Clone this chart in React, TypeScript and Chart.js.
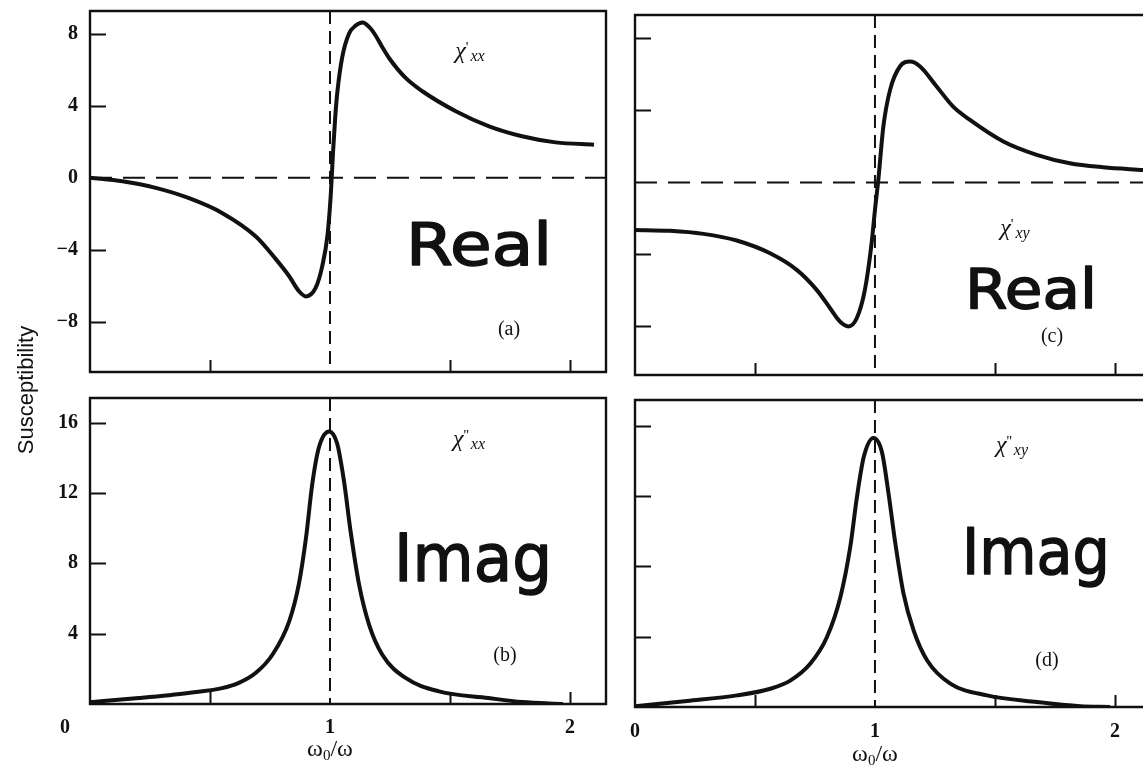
import React, { useEffect, useRef } from 'react';
import { Chart, registerables } from 'chart.js';

Chart.register(...registerables);

// ---------------- data ----------------
// (a) real part, chi'_xx
const xxRealX = [0, 0.135, 0.274, 0.41, 0.55, 0.69, 0.77, 0.83, 0.87, 0.9, 0.94, 0.968, 0.989, 1.003, 1.013, 1.022, 1.031, 1.051, 1.079, 1.107, 1.135, 1.165, 1.19, 1.218, 1.246, 1.315, 1.385, 1.524, 1.663, 1.8, 1.94, 2.1];
const xxRealY = [0, -0.2, -0.57, -1.13, -1.96, -3.26, -4.46, -5.48, -6.3, -6.6, -6.13, -4.9, -3.26, -1.0, 1.5, 3.4, 4.8, 6.7, 8.0, 8.45, 8.62, 8.35, 7.9, 7.25, 6.65, 5.54, 4.8, 3.69, 2.85, 2.3, 1.96, 1.83];

// (b) imaginary part, chi''_xx
const xxImagX = [0, 0.204, 0.41, 0.55, 0.62, 0.69, 0.76, 0.83, 0.87, 0.9, 0.926, 0.954, 0.996, 1.03, 1.058, 1.086, 1.121, 1.163, 1.218, 1.315, 1.454, 1.66, 1.8, 1.97];
const xxImagY = [0.1, 0.34, 0.63, 0.9, 1.2, 1.76, 2.8, 4.7, 6.8, 9.45, 12.5, 14.6, 15.5, 14.8, 12.7, 9.8, 6.8, 4.5, 2.8, 1.48, 0.72, 0.34, 0.11, 0];

// (c) real part, chi'_xy
const xyRealX = [0, 0.146, 0.285, 0.424, 0.563, 0.674, 0.757, 0.813, 0.854, 0.889, 0.924, 0.958, 0.986, 1.0, 1.014, 1.035, 1.063, 1.104, 1.146, 1.188, 1.257, 1.326, 1.396, 1.535, 1.674, 1.812, 1.951, 2.117];
const xyRealY = [-2.64, -2.69, -2.86, -3.23, -3.94, -4.86, -5.97, -6.99, -7.73, -8.0, -7.55, -5.97, -3.38, -1.53, 0.14, 3.1, 5.14, 6.44, 6.71, 6.44, 5.33, 4.21, 3.47, 2.27, 1.53, 1.06, 0.84, 0.69];

// (d) imaginary part, chi''_xy
const xyImagX = [0, 0.217, 0.425, 0.564, 0.647, 0.731, 0.8, 0.856, 0.897, 0.925, 0.953, 0.994, 1.029, 1.057, 1.085, 1.119, 1.161, 1.217, 1.314, 1.467, 1.675, 1.856, 1.98];
const xyImagY = [0.04, 0.34, 0.66, 1.04, 1.5, 2.47, 3.98, 6.26, 9.1, 11.95, 14.2, 15.3, 14.5, 12.1, 9.3, 6.45, 4.36, 2.66, 1.33, 0.66, 0.28, 0.04, 0];

// tick values
const realTickLabels = [-8, -4, 0, 4, 8];
const realTickMarks = [-8, -4, 4, 8];
const imagTickLabels = [4, 8, 12, 16];
const imagTickMarks = [4, 8, 12, 16];
const xTickMarks = [0.5, 1.5, 2];
const xLabelsLeft = [1, 2];
const xLabelsRight = [0, 1, 2];
const resonanceX = 1;

const INK = '#111';
const SERIF = '"Liberation Serif", "DejaVu Serif", serif';
const HAND = '"DejaVu Sans", sans-serif';

type Panel = any;

const PANELS: Panel[] = [
  {
    key: 'a', left: 0, top: 0, width: 620, height: 385,
    pad: { top: 11, right: 14, bottom: 13, left: 0 },
    yAxisWidth: 90, xAxisHeight: null, xLabelPadding: 0,
    xMin: 0, xMax: 2.15, yMin: -10.8, yMax: 9.26,
    xs: xxRealX, ys: xxRealY,
    yLabels: realTickLabels, yMarks: realTickMarks, xLabels: [], xMarks: xTickMarks,
    zeroLine: true, rightBorder: true,
    chi: { prime: "'", sub: 'xx', x: 1.583, y: 6.9 },
    word: { text: 'Real', x: 1.317, y: -4.85, width: 146, size: 58 },
    tag: { text: '(a)', x: 1.746, y: -8.46 },
    xTitle: null, origin: null,
  },
  {
    key: 'b', left: 0, top: 385, width: 620, height: 382,
    pad: { top: 13, right: 14, bottom: 0, left: 0 },
    yAxisWidth: 90, xAxisHeight: 63, xLabelPadding: 12,
    xMin: 0, xMax: 2.15, yMin: 0, yMax: 17.4,
    xs: xxImagX, ys: xxImagY,
    yLabels: imagTickLabels, yMarks: imagTickMarks, xLabels: xLabelsLeft, xMarks: xTickMarks,
    zeroLine: false, rightBorder: true,
    chi: { prime: "''", sub: 'xx', x: 1.579, y: 14.93 },
    word: { text: 'Imag', x: 1.267, y: 7.02, width: 158, size: 66 },
    tag: { text: '(b)', x: 1.729, y: 2.76 },
    xTitle: { x: 1, dy: 52 }, origin: { dx: -25, dy: 24 },
  },
  {
    key: 'c', left: 620, top: 0, width: 523, height: 385,
    pad: { top: 15, right: 0, bottom: 10, left: 15 },
    yAxisWidth: null, xAxisHeight: null, xLabelPadding: 0,
    xMin: 0, xMax: 2.117, yMin: -10.7, yMax: 9.3,
    xs: xyRealX, ys: xyRealY,
    yLabels: realTickLabels, yMarks: realTickMarks, xLabels: [], xMarks: xTickMarks,
    zeroLine: true, rightBorder: false,
    chi: { prime: "'", sub: 'xy', x: 1.583, y: -2.64 },
    word: { text: 'Real', x: 1.375, y: -6.97, width: 132, size: 56 },
    tag: { text: '(c)', x: 1.738, y: -8.58 },
    xTitle: null, origin: null,
  },
  {
    key: 'd', left: 620, top: 385, width: 523, height: 382,
    pad: { top: 15, right: 0, bottom: 0, left: 15 },
    yAxisWidth: null, xAxisHeight: 60, xLabelPadding: 13,
    xMin: 0, xMax: 2.117, yMin: 0, yMax: 17.46,
    xs: xyImagX, ys: xyImagY,
    yLabels: imagTickLabels, yMarks: imagTickMarks, xLabels: xLabelsRight, xMarks: xTickMarks,
    zeroLine: false, rightBorder: false,
    chi: { prime: "''", sub: 'xy', x: 1.571, y: 14.77 },
    word: { text: 'Imag', x: 1.3625, y: 7.57, width: 148, size: 64 },
    tag: { text: '(d)', x: 1.717, y: 2.65 },
    xTitle: { x: 1, dy: 54 }, origin: null,
  },
];

const decoPlugin = {
  id: 'panelDeco',
  beforeDatasetsDraw(chart: any, _args: any, o: any) {
    const { ctx, chartArea, scales } = chart;
    const { left, right, top, bottom } = chartArea;
    const x = scales.x;
    const y = scales.y;
    ctx.save();
    ctx.strokeStyle = INK;
    ctx.lineWidth = 2.4;
    ctx.beginPath();
    if (o.rightBorder) {
      ctx.rect(left, top, right - left, bottom - top);
    } else {
      ctx.moveTo(right, top);
      ctx.lineTo(left, top);
      ctx.lineTo(left, bottom);
      ctx.lineTo(right, bottom);
    }
    ctx.stroke();
    ctx.lineWidth = 2;
    ctx.beginPath();
    for (const v of o.yMarks) {
      const py = Math.round(y.getPixelForValue(v)) + 0.5;
      ctx.moveTo(left, py);
      ctx.lineTo(left + 16, py);
    }
    for (const v of o.xMarks) {
      const px = Math.round(x.getPixelForValue(v)) + 0.5;
      ctx.moveTo(px, bottom);
      ctx.lineTo(px, bottom - 12);
    }
    ctx.stroke();
    // vertical dashed resonance line
    ctx.lineWidth = 2;
    ctx.setLineDash([13, 7]);
    ctx.beginPath();
    const rx = x.getPixelForValue(o.resonance);
    ctx.moveTo(rx, top);
    ctx.lineTo(rx, bottom);
    ctx.stroke();
    if (o.zeroLine) {
      ctx.setLineDash([22, 11]);
      ctx.beginPath();
      const zy = y.getPixelForValue(0);
      ctx.moveTo(left, zy);
      ctx.lineTo(right, zy);
      ctx.stroke();
    }
    ctx.restore();
  },
  afterDatasetsDraw(chart: any, _args: any, o: any) {
    const { ctx, chartArea, scales } = chart;
    const x = scales.x;
    const y = scales.y;
    ctx.save();
    ctx.fillStyle = INK;
    ctx.strokeStyle = INK;
    ctx.textBaseline = 'alphabetic';
    ctx.textAlign = 'left';

    // chi label
    const c = o.chi;
    const fMain = `italic 24px ${SERIF}`;
    const fPrime = `15px ${SERIF}`;
    const fSub = `italic 16px ${SERIF}`;
    ctx.font = fMain;
    const w1 = ctx.measureText('χ').width;
    ctx.font = fPrime;
    const w2 = ctx.measureText(c.prime).width;
    ctx.font = fSub;
    const w3 = ctx.measureText(c.sub).width;
    let cx = x.getPixelForValue(c.x) - (w1 + w2 + w3 + 2) / 2;
    const base = y.getPixelForValue(c.y) + 5;
    ctx.font = fMain;
    ctx.fillText('χ', cx, base);
    cx += w1;
    ctx.font = fPrime;
    ctx.fillText(c.prime, cx, base - 6);
    cx += w2 + 2;
    ctx.font = fSub;
    ctx.fillText(c.sub, cx, base + 3);

    // hand-written word
    const w = o.word;
    ctx.font = `${w.size}px ${HAND}`;
    const ww = ctx.measureText(w.text).width;
    ctx.save();
    ctx.translate(x.getPixelForValue(w.x), y.getPixelForValue(w.y));
    ctx.scale(w.width / ww, 1);
    ctx.lineWidth = 1.5;
    ctx.lineJoin = 'round';
    ctx.fillText(w.text, 0, 0);
    ctx.strokeText(w.text, 0, 0);
    ctx.restore();

    // panel tag
    ctx.font = `20px ${SERIF}`;
    ctx.textAlign = 'center';
    ctx.textBaseline = 'middle';
    ctx.fillText(o.tag.text, x.getPixelForValue(o.tag.x), y.getPixelForValue(o.tag.y));

    // origin label
    if (o.origin) {
      ctx.font = `bold 20px ${SERIF}`;
      ctx.fillText('0', chartArea.left + o.origin.dx, chartArea.bottom + o.origin.dy);
    }

    // x axis title  ω0/ω
    if (o.xTitle) {
      ctx.textAlign = 'left';
      ctx.textBaseline = 'alphabetic';
      const fBig = `24px ${SERIF}`;
      const fSmall = `15px ${SERIF}`;
      ctx.font = fBig;
      const a1 = ctx.measureText('ω').width;
      const a3 = ctx.measureText('/ω').width;
      ctx.font = fSmall;
      const a2 = ctx.measureText('0').width;
      let tx = x.getPixelForValue(o.xTitle.x) - (a1 + a2 + a3) / 2;
      const ty = chartArea.bottom + o.xTitle.dy;
      ctx.font = fBig;
      ctx.fillText('ω', tx, ty);
      tx += a1;
      ctx.font = fSmall;
      ctx.fillText('0', tx, ty + 4);
      tx += a2;
      ctx.font = fBig;
      ctx.fillText('/ω', tx, ty);
    }
    ctx.restore();
  },
};

const fmt = (v: number) => (v < 0 ? '\u2212' + Math.abs(v) : String(v));

function buildConfig(p: Panel): any {
  return {
    type: 'line',
    data: {
      datasets: [
        {
          data: p.xs.map((xv: number, i: number) => ({ x: xv, y: p.ys[i] })),
          borderColor: INK,
          borderWidth: 4,
          pointRadius: 0,
          fill: false,
          cubicInterpolationMode: 'monotone',
        },
      ],
    },
    options: {
      responsive: false,
      animation: false,
      events: [],
      layout: { padding: p.pad },
      plugins: {
        legend: { display: false },
        tooltip: { enabled: false },
        panelDeco: {
          yMarks: p.yMarks,
          xMarks: p.xMarks,
          resonance: resonanceX,
          zeroLine: p.zeroLine,
          rightBorder: p.rightBorder,
          chi: p.chi,
          word: p.word,
          tag: p.tag,
          xTitle: p.xTitle,
          origin: p.origin,
        },
      },
      scales: {
        x: {
          type: 'linear',
          min: p.xMin,
          max: p.xMax,
          display: p.xAxisHeight !== null,
          grid: { display: false, drawTicks: false },
          border: { display: false },
          ticks: {
            autoSkip: false,
            maxRotation: 0,
            padding: p.xLabelPadding,
            color: INK,
            font: { family: SERIF, size: 20, weight: 'bold' },
            callback: (v: number) => String(v),
          },
          afterBuildTicks: (s: any) => {
            s.ticks = p.xLabels.map((v: number) => ({ value: v }));
          },
          afterFit: (s: any) => {
            if (p.xAxisHeight !== null) s.height = p.xAxisHeight;
            s.paddingLeft = 0;
            s.paddingRight = 0;
          },
        },
        y: {
          type: 'linear',
          min: p.yMin,
          max: p.yMax,
          display: p.yAxisWidth !== null,
          grid: { display: false, drawTicks: false },
          border: { display: false },
          ticks: {
            autoSkip: false,
            padding: 12,
            color: INK,
            font: { family: SERIF, size: 20, weight: 'bold' },
            callback: (v: number) => fmt(v),
          },
          afterBuildTicks: (s: any) => {
            s.ticks = p.yLabels.map((v: number) => ({ value: v }));
          },
          afterFit: (s: any) => {
            if (p.yAxisWidth !== null) s.width = p.yAxisWidth;
            s.paddingTop = 0;
            s.paddingBottom = 0;
          },
        },
      },
    },
    plugins: [decoPlugin],
  };
}

export default function App() {
  const refs = useRef<(HTMLCanvasElement | null)[]>([]);
  useEffect(() => {
    const charts = PANELS.map((p, i) => new Chart(refs.current[i] as HTMLCanvasElement, buildConfig(p)));
    return () => charts.forEach((c) => c.destroy());
  }, []);
  return (
    <div style={{ position: 'fixed', left: 0, top: 0, width: 1143, height: 767, background: '#fff', overflow: 'hidden' }}>
      {PANELS.map((p, i) => (
        <canvas
          key={p.key}
          ref={(el) => {
            refs.current[i] = el;
          }}
          width={p.width}
          height={p.height}
          style={{ position: 'absolute', left: p.left, top: p.top, width: p.width, height: p.height }}
        />
      ))}
      <div
        style={{
          position: 'absolute',
          left: 26,
          top: 390,
          width: 200,
          textAlign: 'center',
          transform: 'translate(-50%, -50%) rotate(-90deg)',
          font: '22px "Liberation Sans", Arial, sans-serif',
          color: INK,
          lineHeight: '24px',
          whiteSpace: 'nowrap',
        }}
      >
        Susceptibility
      </div>
    </div>
  );
}
